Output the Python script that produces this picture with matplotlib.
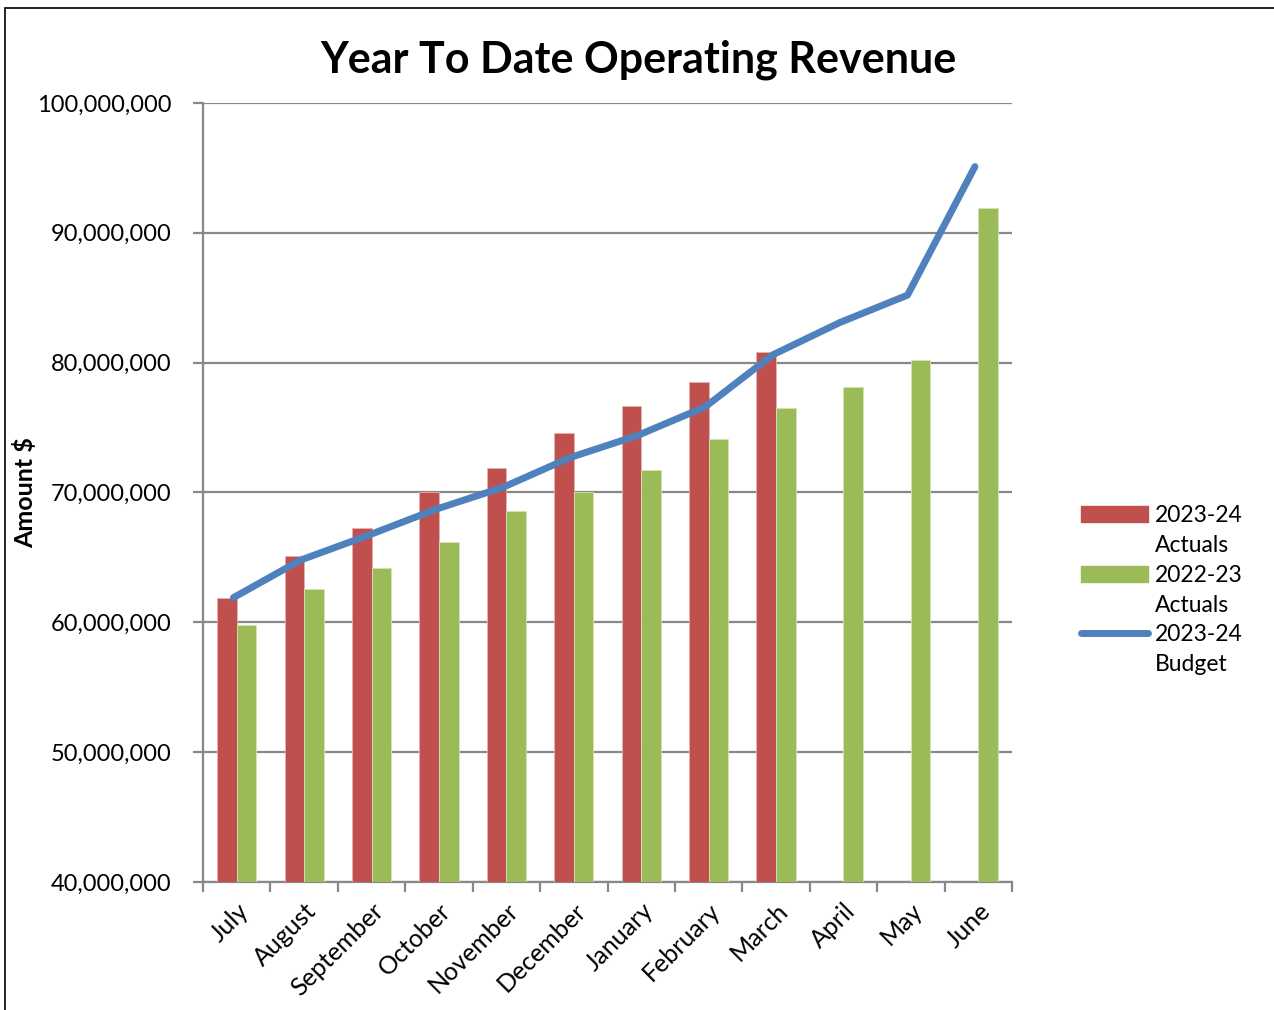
import matplotlib
matplotlib.use("Agg")
import matplotlib.pyplot as plt
from matplotlib.patches import Rectangle
from matplotlib.lines import Line2D
from matplotlib.ticker import FuncFormatter, FixedLocator
import numpy as np

plt.rcParams['font.family'] = ['Lato', 'DejaVu Sans']

months = ["July", "August", "September", "October", "November", "December",
          "January", "February", "March", "April", "May", "June"]
actuals_2324 = [61.9e6, 65.1e6, 67.3e6, 70.0e6, 71.9e6, 74.6e6, 76.7e6, 78.5e6, 80.8e6,
                None, None, None]
actuals_2223 = [59.8e6, 62.6e6, 64.2e6, 66.2e6, 68.6e6, 70.0e6, 71.7e6, 74.1e6, 76.5e6,
                78.1e6, 80.2e6, 91.9e6]
budget_2324 = [61.9e6, 64.8e6, 66.7e6, 68.7e6, 70.4e6, 72.7e6, 74.4e6, 76.6e6, 80.6e6,
               83.1e6, 85.2e6, 95.1e6]
yticks = [40e6, 50e6, 60e6, 70e6, 80e6, 90e6, 100e6]

RED = "#C0504D"
GREEN = "#9BBB59"
BLUE = "#4F81BD"
GRID = "#888888"

fig = plt.figure(figsize=(12.74, 10.10), dpi=100)
ax = fig.add_axes([203/1274, 1-882/1010, (1012-203)/1274, (882-103)/1010])

x = np.arange(len(months))
w = 0.29
red_x = [xi for xi, v in zip(x, actuals_2324) if v is not None]
red_v = [v for v in actuals_2324 if v is not None]
ax.bar(np.array(red_x) - w/2, red_v, width=w, color=RED, edgecolor="#E8B0AE", linewidth=0.6, zorder=3)
ax.bar(x + w/2, actuals_2223, width=w, color=GREEN, edgecolor="#D4E4B4", linewidth=0.6, zorder=3)
ax.plot(x - 0.05, budget_2324, color=BLUE, linewidth=5, solid_capstyle='round', zorder=4)

ax.set_xlim(-0.5, len(months) - 0.5)
ax.set_ylim(40e6, 100e6)
ax.set_yticks(yticks)
ax.yaxis.set_major_formatter(FuncFormatter(lambda v, p: f"{int(v):,}"))
ax.yaxis.grid(True, color=GRID, linewidth=1.6, zorder=0)
ax.set_axisbelow(True)

ax.set_xticks(x)
ax.set_xticklabels(months, rotation=45, ha='right', rotation_mode='anchor', fontsize=18)
ax.xaxis.set_minor_locator(FixedLocator(np.arange(-0.5, len(months), 1.0)))
ax.tick_params(axis='x', which='major', length=0, pad=12)
ax.tick_params(axis='x', which='minor', length=7, width=1.6, color=GRID, direction='out')
ax.tick_params(axis='y', which='major', length=7, width=1.6, color=GRID, labelsize=17, pad=16)

for s in ['top', 'right']:
    ax.spines[s].set_visible(False)
for s in ['left', 'bottom']:
    ax.spines[s].set_color(GRID)
    ax.spines[s].set_linewidth(1.6)

ax.set_ylabel("Amount $", fontsize=18, fontweight='bold', labelpad=0)
ax.yaxis.set_label_coords(-0.205, 0.5)

fig.text(638/1274, 1-60/1010, "Year To Date Operating Revenue", ha='center', va='center',
         fontsize=31, fontweight='bold')

handles = [Rectangle((0, 0), 1, 1, color=RED), Line2D([], [], alpha=0),
           Rectangle((0, 0), 1, 1, color=GREEN), Line2D([], [], alpha=0),
           Line2D([], [], color=BLUE, linewidth=5, solid_capstyle='round'), Line2D([], [], alpha=0)]
labels = ["2023-24", "Actuals", "2022-23", "Actuals", "2023-24", "Budget"]
leg = fig.legend(handles, labels, loc='upper left', bbox_to_anchor=(1070/1274, 1-494/1010),
                 frameon=False, fontsize=16.5, handlelength=2.9, handleheight=0.7,
                 labelspacing=0.38, handletextpad=0.3, borderpad=0)

border = Rectangle((5/1274, -0.01), 1.2, 1-8/1010 + 0.01, transform=fig.transFigure,
                   fill=False, edgecolor='black', linewidth=1.2)
fig.patches.append(border)

fig.savefig("out.png", dpi=100, facecolor='white')
